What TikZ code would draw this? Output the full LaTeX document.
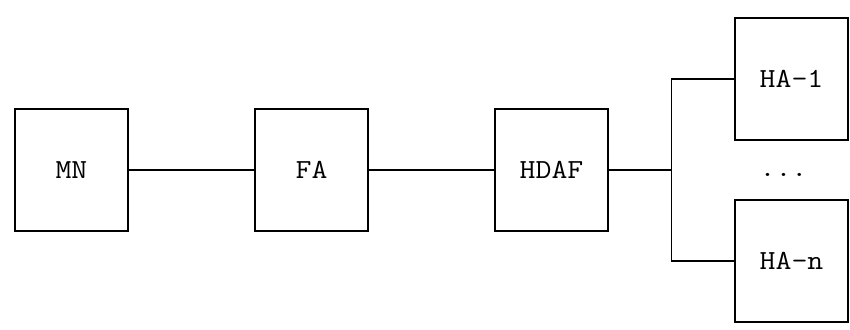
\documentclass[tikz,border=0pt]{standalone}
\usepackage{fontspec}
\newfontfamily\asciifont[FakeStretch=1.12]{Latin Modern Mono}
\usetikzlibrary{positioning}

\begin{document}
\begin{tikzpicture}[
		node distance=63.5pt,
		every node/.style={font=\asciifont\fontsize{13.8}{16}\selectfont},
		entity/.style={
			draw,
			line width=0.6pt,
			outer sep=0pt,
			minimum width=56.5pt,
			minimum height=61pt
		},
		link/.style={line width=0.6pt}
		]
		
		\useasboundingbox (-35.75pt,-79.5pt) rectangle (389.25pt,85pt);
		
		% Mobile side
		\node[entity] (mn) at (0,0) {MN};
		\node[entity, right=of mn] (fa) {FA};
		\node[entity, right=of fa] (hdaf) {HDAF};
		
		% Home agents
		\node[entity, right=of hdaf, yshift=45.5pt] (ha1) {HA-1};
		\node[entity, right=of hdaf, yshift=-45.5pt] (han) {HA-n};
		\path (ha1) -- node[xshift=-4pt, yshift=-2.5pt] (dots) {...} (han);
		
		% Branch point
		\coordinate[right=31.75pt of hdaf] (bus);
		
		% Connections
		\draw[link] (mn) -- (fa);
		\draw[link] (fa) -- (hdaf);
		\draw[link] (hdaf) -- (bus);
		\draw[link] (ha1) -| (bus) |- (han);
		
	\end{tikzpicture}
\end{document}
